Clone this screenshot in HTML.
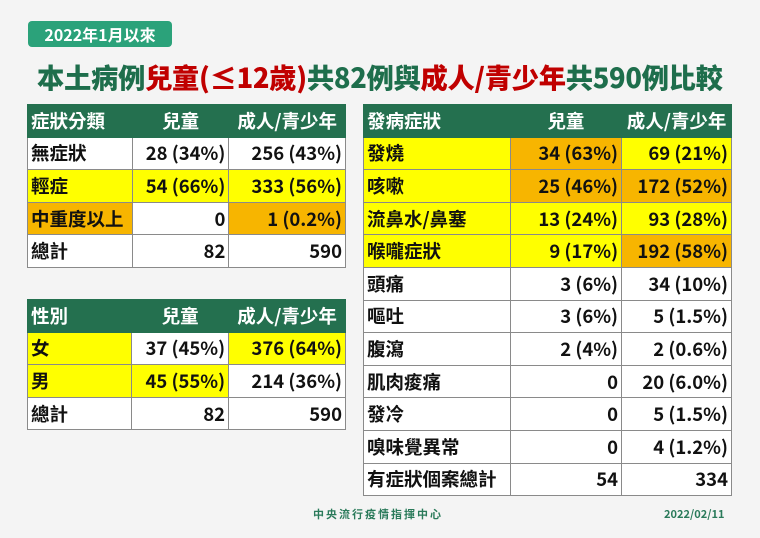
<!DOCTYPE html>
<html><head><meta charset="utf-8"><style>
*{margin:0;padding:0;box-sizing:border-box}
body{width:760px;height:538px;background:#f4f4f4;font-family:"Liberation Sans","Noto Sans CJK TC",sans-serif;font-weight:bold;position:relative;overflow:hidden}
.badge{position:absolute;left:28px;top:21px;width:144px;height:26px;background:#2ba27a;border-radius:4px;color:#fff;font-size:16px;line-height:26px;text-align:center;font-family:"Noto Sans CJK TC",sans-serif}
.title{position:absolute;left:37px;top:56px;font-size:27.3px;line-height:40px;color:#1e6e4c;white-space:nowrap;font-family:"Noto Sans CJK TC",sans-serif;font-weight:900;letter-spacing:-0.3px}
.r{color:#c00000}
table{position:absolute;border-collapse:collapse;font-family:"Noto Sans CJK TC",sans-serif;font-size:18.5px;color:#111}
td{border:1px solid #8a8a8a;height:32.6px;padding:0 3px;white-space:nowrap;background:#fff;line-height:30px}
td.n{text-align:right}
tr.h td{background:#24704f;color:#fff;border-color:#24704f}
tr.h td.c{text-align:center}
.y{background:#ffff00 !important}
.o{background:#f7b500 !important}
.foot{position:absolute;top:506px;font-size:11px;color:#2a7a5a;font-family:"Noto Sans CJK TC",sans-serif}
</style></head><body>
<div class="badge">2022年1月以來</div>
<div class="title">本土病例<span class="r">兒童(≤12歲)</span>共82例與<span class="r">成人/青少年</span>共590例比較</div>

<table style="left:27px;top:104px;width:319px">
<colgroup><col style="width:105px"><col style="width:97px"><col style="width:117px"></colgroup>
<tr class="h"><td>症狀分類</td><td class="c">兒童</td><td class="c">成人/青少年</td></tr>
<tr><td>無症狀</td><td class="n">28 (34%)</td><td class="n">256 (43%)</td></tr>
<tr><td class="y">輕症</td><td class="n y">54 (66%)</td><td class="n y">333 (56%)</td></tr>
<tr><td class="o">中重度以上</td><td class="n">0</td><td class="n o">1 (0.2%)</td></tr>
<tr><td>總計</td><td class="n">82</td><td class="n">590</td></tr>
</table>

<table style="left:27px;top:299px;width:319px">
<colgroup><col style="width:105px"><col style="width:97px"><col style="width:117px"></colgroup>
<tr class="h"><td>性別</td><td class="c">兒童</td><td class="c">成人/青少年</td></tr>
<tr><td class="y">女</td><td class="n">37 (45%)</td><td class="n y">376 (64%)</td></tr>
<tr><td class="y">男</td><td class="n y">45 (55%)</td><td class="n">214 (36%)</td></tr>
<tr><td>總計</td><td class="n">82</td><td class="n">590</td></tr>
</table>

<table style="left:363px;top:104px;width:369px">
<colgroup><col style="width:147px"><col style="width:112px"><col style="width:110px"></colgroup>
<tr class="h"><td>發病症狀</td><td class="c">兒童</td><td class="c">成人/青少年</td></tr>
<tr><td class="y">發燒</td><td class="n o">34 (63%)</td><td class="n y">69 (21%)</td></tr>
<tr><td class="y">咳嗽</td><td class="n o">25 (46%)</td><td class="n o">172 (52%)</td></tr>
<tr><td class="y">流鼻水/鼻塞</td><td class="n y">13 (24%)</td><td class="n y">93 (28%)</td></tr>
<tr><td class="y">喉嚨症狀</td><td class="n y">9 (17%)</td><td class="n o">192 (58%)</td></tr>
<tr><td>頭痛</td><td class="n">3 (6%)</td><td class="n">34 (10%)</td></tr>
<tr><td>嘔吐</td><td class="n">3 (6%)</td><td class="n">5 (1.5%)</td></tr>
<tr><td>腹瀉</td><td class="n">2 (4%)</td><td class="n">2 (0.6%)</td></tr>
<tr><td>肌肉痠痛</td><td class="n">0</td><td class="n">20 (6.0%)</td></tr>
<tr><td>發冷</td><td class="n">0</td><td class="n">5 (1.5%)</td></tr>
<tr><td>嗅味覺異常</td><td class="n">0</td><td class="n">4 (1.2%)</td></tr>
<tr><td>有症狀個案總計</td><td class="n">54</td><td class="n">334</td></tr>
</table>

<div class="foot" style="left:313px;letter-spacing:2px">中央流行疫情指揮中心</div>
<div class="foot" style="left:664px">2022/02/11</div>
</body></html>
